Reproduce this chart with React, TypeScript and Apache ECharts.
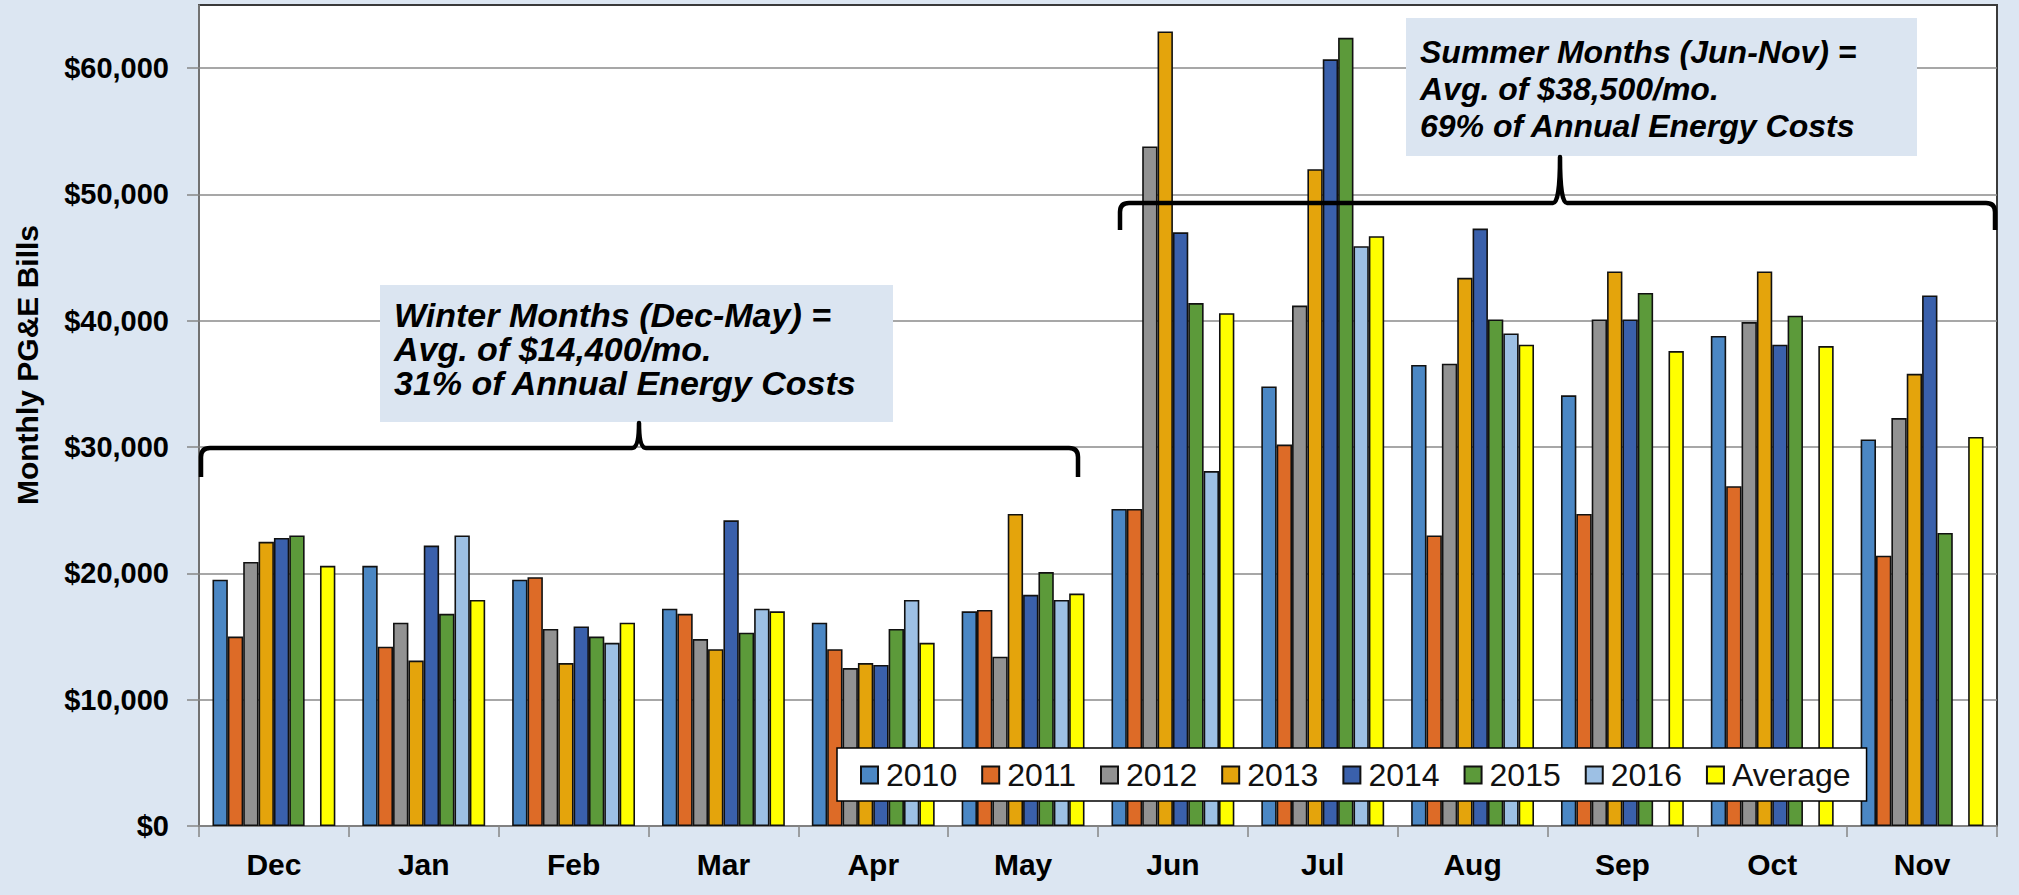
import React, { useEffect, useRef } from 'react';
import * as echarts from 'echarts';

const months = ['Dec', 'Jan', 'Feb', 'Mar', 'Apr', 'May', 'Jun', 'Jul', 'Aug', 'Sep', 'Oct', 'Nov'];
const seriesNames = ['2010', '2011', '2012', '2013', '2014', '2015', '2016', 'Average'];
const s2010 = [19500, 20600, 19500, 17200, 16100, 17000, 25100, 34800, 36500, 34100, 38800, 30600];
const s2011 = [15000, 14200, 19700, 16800, 14000, 17100, 25100, 30200, 23000, 24700, 26900, 21400];
const s2012 = [20900, 16100, 15600, 14800, 12500, 13400, 53800, 41200, 36600, 40100, 39900, 32300];
const s2013 = [22500, 13100, 12900, 14000, 12900, 24700, 62900, 52000, 43400, 43900, 43900, 35800];
const s2014 = [22800, 22200, 15800, 24200, 12750, 18300, 47000, 60700, 47300, 40100, 38100, 42000];
const s2015 = [23000, 16800, 15000, 15300, 15600, 20100, 41400, 62400, 40100, 42200, 40400, 23200];
const s2016 = [null, 23000, 14500, 17200, 17900, 17900, 28100, 45900, 39000, null, null, null];
const sAvg = [20600, 17900, 16100, 17000, 14500, 18400, 40600, 46700, 38100, 37600, 38000, 30800];
const yTicks = [0, 10000, 20000, 30000, 40000, 50000, 60000];
const yMax = 65000;

const winterText = ['Winter Months (Dec-May) =', 'Avg. of $14,400/mo.', '31% of Annual Energy Costs'];
const summerText = ['Summer Months (Jun-Nov) =', 'Avg. of $38,500/mo.', '69% of Annual Energy Costs'];
const yTitle = 'Monthly PG&E Bills';

const allSeries = [s2010, s2011, s2012, s2013, s2014, s2015, s2016, sAvg];
const colors = ['#4b87c4', '#dd6b27', '#929292', '#e4a40c', '#3a60ab', '#5c9a3a', '#9dc0e4', '#ffff00'];

const BG = '#dce6f2';
const FONT = '"Liberation Sans", Arial, sans-serif';

function bracePath(x0: number, x1: number, y: number, hook: number, xm: number, peak: number) {
  return (
    `M ${x0} ${y + hook} L ${x0} ${y + 9} Q ${x0} ${y} ${x0 + 9} ${y} ` +
    `L ${xm - 7} ${y} Q ${xm} ${y} ${xm} ${peak} Q ${xm} ${y} ${xm + 7} ${y} ` +
    `L ${x1 - 9} ${y} Q ${x1} ${y} ${x1} ${y + 9} L ${x1} ${y + hook}`
  );
}

let registered = false;
function registerShapes() {
  if (registered) return;
  registered = true;
  echarts.graphic.registerShape(
    'braceWinter',
    echarts.graphic.extendPath(bracePath(201, 1078, 448, 29, 639, 423), {})
  );
  echarts.graphic.registerShape(
    'braceSummer',
    echarts.graphic.extendPath(bracePath(1120, 1995, 203, 27, 1560, 157), {})
  );
}

function fmt(v: number) {
  if (v > 60000) return '';
  return '$' + v.toLocaleString('en-US');
}

export default function App() {
  const ref = useRef<HTMLDivElement>(null);
  useEffect(() => {
    registerShapes();
    const chart = echarts.init(ref.current!, undefined, { renderer: 'svg' });
    const option: any = {
      animation: false,
      backgroundColor: BG,
      color: colors,
      grid: {
        left: 199,
        right: 22,
        top: 5,
        bottom: 69,
        show: true,
        backgroundColor: '#ffffff',
        borderColor: '#3a3a3a',
        borderWidth: 2,
        containLabel: false,
      },
      legend: {
        data: seriesNames,
        left: 837,
        top: 748,
        icon: 'rect',
        itemWidth: 17,
        itemHeight: 17,
        itemGap: 24,
        padding: [11, 16, 10, 23],
        backgroundColor: '#ffffff',
        borderColor: '#000000',
        borderWidth: 1.5,
        textStyle: { fontSize: 32, color: '#111', fontFamily: FONT, padding: [0, 0, 0, 3] },
      },
      xAxis: {
        type: 'category',
        data: months,
        axisLine: { lineStyle: { color: '#868686', width: 1.5 } },
        axisTick: { show: true, length: 11, lineStyle: { color: '#868686', width: 1.5 } },
        axisLabel: { fontSize: 30, fontWeight: 'bold', color: '#000', fontFamily: FONT, margin: 23 },
      },
      yAxis: {
        type: 'value',
        min: 0,
        max: yMax,
        interval: 10000,
        axisLine: { show: true, lineStyle: { color: '#868686', width: 1.5 } },
        axisTick: { show: true, length: 12, customValues: yTicks, lineStyle: { color: '#868686', width: 1.5 } },
        axisLabel: {
          fontSize: 29,
          fontWeight: 'bold',
          color: '#000',
          fontFamily: FONT,
          margin: 30,
          customValues: yTicks,
          formatter: (v: number) => fmt(v),
        },
        splitLine: { show: true, lineStyle: { color: '#8a8a8a', width: 1.5 } },
      },
      series: seriesNames.map((name, i) => ({
        name,
        type: 'bar',
        data: allSeries[i],
        barGap: '0%',
        barCategoryGap: '18%',
        itemStyle: { color: colors[i], borderColor: '#111', borderWidth: 1.6 },
      })),
      graphic: [
        {
          type: 'text',
          x: 27,
          y: 365,
          rotation: Math.PI / 2,
          z: 100,
          style: {
            text: yTitle,
            fill: '#000',
            font: `bold 30px ${FONT}`,
            textAlign: 'center',
            textVerticalAlign: 'middle',
          },
        },
        {
          type: 'rect',
          z: 100,
          shape: { x: 380, y: 285, width: 513, height: 137 },
          style: { fill: '#dbe5f1' },
        },
        {
          type: 'text',
          z: 101,
          x: 394,
          y: 349,
          style: {
            text: winterText.join('\n'),
            fill: '#000',
            font: `italic bold 34px ${FONT}`,
            lineHeight: 34,
            textVerticalAlign: 'middle',
          },
        },
        {
          type: 'rect',
          z: 100,
          shape: { x: 1406, y: 18, width: 511, height: 138 },
          style: { fill: '#dbe5f1' },
        },
        {
          type: 'text',
          z: 101,
          x: 1420,
          y: 89,
          style: {
            text: summerText.join('\n'),
            fill: '#000',
            font: `italic bold 32px ${FONT}`,
            lineHeight: 37,
            textVerticalAlign: 'middle',
          },
        },
        {
          type: 'braceWinter',
          z: 102,
          style: { stroke: '#000', lineWidth: 4.5, fill: 'none', lineJoin: 'round', lineCap: 'butt' },
        },
        {
          type: 'braceSummer',
          z: 102,
          style: { stroke: '#000', lineWidth: 4.5, fill: 'none', lineJoin: 'round', lineCap: 'butt' },
        },
      ],
    };
    chart.setOption(option);
    return () => chart.dispose();
  }, []);
  return (
    <div
      ref={ref}
      style={{ position: 'fixed', left: 0, top: 0, width: 2019, height: 895, background: BG }}
    />
  );
}
